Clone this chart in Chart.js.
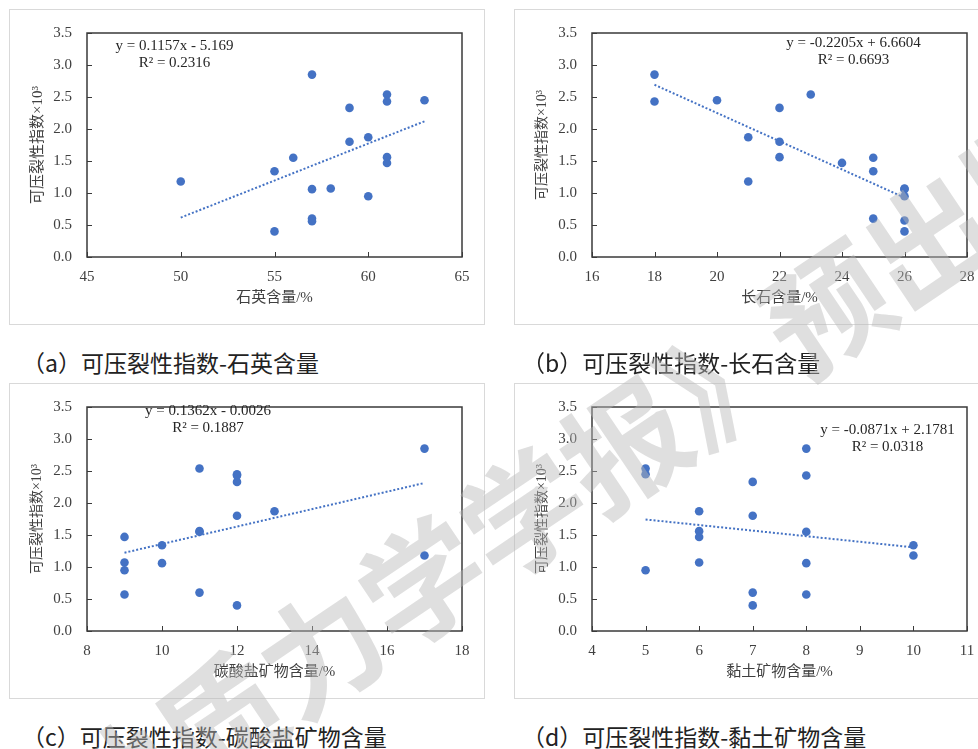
<!DOCTYPE html>
<html>
<head>
<meta charset="utf-8">
<script src="https://cdn.jsdelivr.net/npm/chart.js@4.4.0/dist/chart.umd.min.js"></script>
<style>
  html, body { margin: 0; padding: 0; background: #fff; }
  body { position: relative; width: 978px; height: 749px; overflow: hidden; }
  .panel { position: absolute; outline: 1px solid #d9d9d9; outline-offset: -1px; }
  .cap { position: absolute; font-family: "Noto Sans CJK SC", sans-serif; font-size: 23px; line-height: 1; color: #222; white-space: nowrap; }
  .wm { position: absolute; font-family: "Noto Sans CJK SC", sans-serif; font-weight: 700; font-size: 122px; line-height: 1;
        color: rgba(185,185,185,0.45); white-space: nowrap; transform-origin: 0 50%; transform: rotate(-34deg); pointer-events: none; }
</style>
</head>
<body>
<canvas id="cA" class="panel" width="476" height="316" style="left:9px;top:9px"></canvas>
<canvas id="cB" class="panel" width="476" height="316" style="left:514px;top:9px"></canvas>
<canvas id="cC" class="panel" width="476" height="316" style="left:9px;top:383px"></canvas>
<canvas id="cD" class="panel" width="476" height="316" style="left:514px;top:383px"></canvas>

<div class="cap" style="left:22px;top:351px">（a）可压裂性指数-石英含量</div>
<div class="cap" style="left:522px;top:351px">（b）可压裂性指数-长石含量</div>
<div class="cap" style="left:22px;top:725px">（c）可压裂性指数-碳酸盐矿物含量</div>
<div class="cap" style="left:522px;top:725px">（d）可压裂性指数-黏土矿物含量</div>

<div class="wm" style="left:-36px;top:823px">《地质力学学报》预出版</div>

<script>
// Fracability index (×10³) of the samples against mineral content
const quartzX    = [50, 55, 55, 56, 57, 57, 57, 57, 58, 59, 59, 60, 60, 61, 61, 61, 61, 63];
const quartzY    = [1.18, 1.34, 0.40, 1.55, 2.85, 1.06, 0.60, 0.56, 1.07, 2.33, 1.80, 1.87, 0.95, 2.54, 2.43, 1.56, 1.47, 2.45];

const feldsparX  = [18, 18, 20, 21, 21, 22, 22, 22, 23, 24, 25, 25, 25, 26, 26, 26, 26, 26];
const feldsparY  = [2.85, 2.43, 2.45, 1.87, 1.18, 2.33, 1.80, 1.56, 2.54, 1.47, 1.55, 1.34, 0.60, 1.07, 1.06, 0.95, 0.57, 0.40];

const carbonateX = [9, 9, 9, 9, 10, 10, 11, 11, 11, 11, 12, 12, 12, 12, 12, 13, 17, 17];
const carbonateY = [1.47, 1.07, 0.95, 0.57, 1.34, 1.06, 2.54, 1.56, 1.55, 0.60, 2.45, 2.43, 2.33, 1.80, 0.40, 1.87, 2.85, 1.18];

const clayX      = [5, 5, 5, 6, 6, 6, 6, 7, 7, 7, 7, 8, 8, 8, 8, 8, 10, 10];
const clayY      = [2.54, 2.45, 0.95, 1.87, 1.56, 1.47, 1.07, 2.33, 1.80, 0.60, 0.40, 2.85, 2.43, 1.55, 1.06, 0.57, 1.34, 1.18];

// Linear fits: slope, intercept, R²
const fitQuartz    = [0.1157, -5.169, 0.2316];
const fitFeldspar  = [-0.2205, 6.6604, 0.6693];
const fitCarbonate = [0.1362, -0.0026, 0.1887];
const fitClay      = [-0.0871, 2.1781, 0.0318];

// Axis titles
const xTitles = ['石英含量/%', '长石含量/%', '碳酸盐矿物含量/%', '黏土矿物含量/%'];
const yTitle  = '可压裂性指数×10³';

const SERIF = "'Liberation Serif', 'Noto Sans CJK SC', serif";
const BLUE = '#4472C4';
const INK = '#404040';

Chart.defaults.font.family = SERIF;

// Plot frame and inward tick marks
const frameTicks = {
  id: 'frameTicks',
  beforeDatasetsDraw(chart) {
    const { ctx, chartArea: a, scales: { x, y } } = chart;
    ctx.save();
    ctx.strokeStyle = '#3a3a3a';
    ctx.lineWidth = 1.5;
    ctx.strokeRect(a.left, a.top, a.right - a.left, a.bottom - a.top);
    ctx.lineWidth = 1;
    ctx.beginPath();
    x.ticks.forEach(t => {
      const p = Math.round(x.getPixelForValue(t.value)) + 0.5;
      ctx.moveTo(p, a.bottom); ctx.lineTo(p, a.bottom - 5);
    });
    y.ticks.forEach(t => {
      const p = Math.round(y.getPixelForValue(t.value)) + 0.5;
      ctx.moveTo(a.left, p); ctx.lineTo(a.left + 5, p);
    });
    ctx.stroke();
    ctx.restore();
  }
};

// Regression equation text
const trendLabel = {
  id: 'trendLabel',
  afterDatasetsDraw(chart, args, opts) {
    const { ctx } = chart;
    ctx.save();
    ctx.font = '15px ' + SERIF;
    ctx.fillStyle = '#262626';
    ctx.textAlign = 'center';
    ctx.textBaseline = 'middle';
    opts.lines.forEach((s, i) => ctx.fillText(s, opts.x, opts.y + i * 17));
    ctx.restore();
  }
};

function eqLines(fit) {
  const [m, b, r2] = fit;
  return ['y = ' + m + 'x ' + (b < 0 ? '- ' : '+ ') + Math.abs(b), 'R² = ' + r2];
}

function panel(id, xs, ys, fit, xMin, xMax, step, xTitle, yTitleSize, labelPos) {
  const pts = xs.map((v, i) => ({ x: v, y: ys[i] }));
  const lo = Math.min(...xs), hi = Math.max(...xs);
  const line = [lo, hi].map(v => ({ x: v, y: fit[0] * v + fit[1] }));
  return new Chart(document.getElementById(id), {
    type: 'scatter',
    data: {
      datasets: [
        { data: pts, backgroundColor: BLUE, pointRadius: 4.3, pointBorderWidth: 0, pointHoverRadius: 4.3, order: 1 },
        { data: line, showLine: true, borderColor: BLUE, borderWidth: 2, borderDash: [2, 2], pointRadius: 0, order: 2 }
      ]
    },
    options: {
      responsive: false, animation: false, devicePixelRatio: 1,
      layout: { padding: { left: 0, top: 16, right: 23, bottom: 0 } },
      plugins: { legend: { display: false }, tooltip: { enabled: false }, trendLabel: { lines: eqLines(fit), x: labelPos[0], y: labelPos[1] } },
      scales: {
        x: {
          type: 'linear', min: xMin, max: xMax,
          ticks: { stepSize: step, padding: 11, color: INK, font: { family: SERIF, size: 15 } },
          grid: { display: false, drawTicks: false }, border: { display: false },
          title: { display: true, text: xTitle, color: INK, font: { family: SERIF, size: 15 }, padding: { top: 0, bottom: 18 } },
          afterFit: s => { s.height = 68; }
        },
        y: {
          type: 'linear', min: 0, max: 3.5,
          ticks: { stepSize: 0.5, padding: 15, color: INK, font: { family: SERIF, size: 15 }, callback: v => v.toFixed(1) },
          grid: { display: false, drawTicks: false }, border: { display: false },
          title: { display: true, text: yTitle, color: INK, font: { family: SERIF, size: yTitleSize }, padding: { top: 20, bottom: 0 } },
          afterFit: s => { s.width = 78; }
        }
      }
    },
    plugins: [frameTicks, trendLabel]
  });
}

panel('cA', quartzX, quartzY, fitQuartz, 45, 65, 5, xTitles[0], 15, [165.5, 37]);
panel('cB', feldsparX, feldsparY, fitFeldspar, 16, 28, 2, xTitles[1], 14, [339.5, 34]);
panel('cC', carbonateX, carbonateY, fitCarbonate, 8, 18, 2, xTitles[2], 14, [199, 28]);
panel('cD', clayX, clayY, fitClay, 4, 11, 1, xTitles[3], 14, [373.5, 47]);
</script>
</body>
</html>
